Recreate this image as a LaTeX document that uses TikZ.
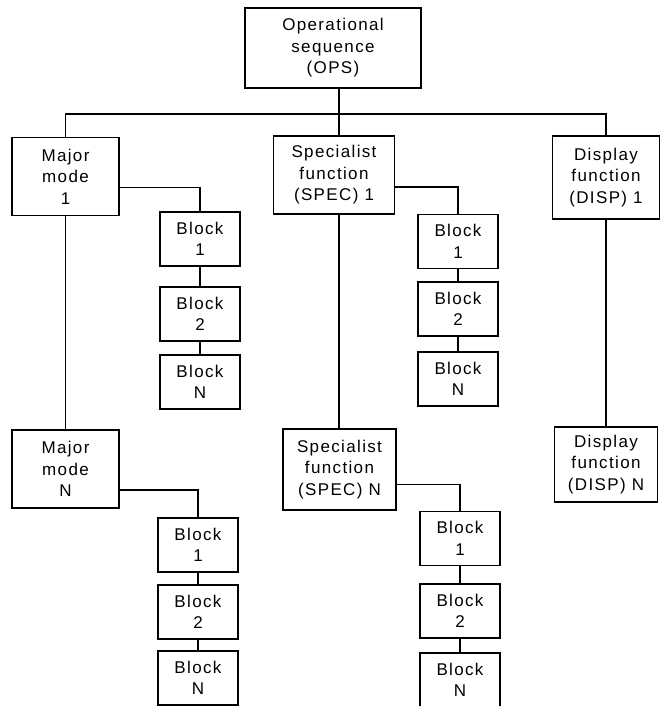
\documentclass[tikz,border=0pt]{standalone}
\usepackage{fontspec}
\setmainfont{Liberation Sans}[LetterSpace=8]
\usetikzlibrary{positioning}
\tikzset{box/.style={draw,line width=1.7pt,align=center,inner sep=3pt,
    font=\fontsize{17}{21.5}\selectfont}}
\tikzset{unit/.style={box,minimum width=107pt,minimum height=78pt}}
\tikzset{blk/.style={box,minimum width=80pt,minimum height=54pt}}

\begin{document}
\begin{tikzpicture}[x=1pt,y=-1pt,line width=1.7pt]
\useasboundingbox (0,0) rectangle (664,706);

% Top
\node[box,minimum width=176pt,minimum height=80pt] (OPS) at (333,48)
  {Operational\\sequence\\(OPS)};
\coordinate (bus) at (339,114);

% First row
\node[unit] (MM1) at (65.5,176.5) {Major\\mode\\1};
\node[unit,minimum width=121pt] (SF1) at (334,175)
  {Specialist\\function\\(SPEC) 1};
\node[unit,minimum height=83pt] (DF1) at (606,177.5)
  {Display\\function\\(DISP) 1};

% Second row
\node[unit] (MMN) at (65.5,469) {Major\\mode\\N};
\node[unit,minimum width=113pt,minimum height=81pt] (SFN) at (339.5,469.5)
  {Specialist\\function\\(SPEC) N};
\node[unit,minimum width=103pt,minimum height=75pt] (DFN) at (606,464.5)
  {Display\\function\\(DISP) N};

% Blocks of major mode 1
\node[blk] (MA1) at (200,239) {Block\\1};
\node[blk] (MA2) at (200,314) {Block\\2};
\node[blk] (MAN) at (200,382) {Block\\N};

% Blocks of major mode N
\node[blk] (MB1) at (198,545) {Block\\1};
\node[blk] (MB2) at (198,612) {Block\\2};
\node[blk] (MBN) at (198,678) {Block\\N};

% Blocks of SPEC 1
\node[blk] (SA1) at (458,241.5) {Block\\1};
\node[blk] (SA2) at (458,309) {Block\\2};
\node[blk] (SAN) at (458,379) {Block\\N};

% Blocks of SPEC N
\node[blk] (SB1) at (460,538.5) {Block\\1};
\node[blk] (SB2) at (460,611) {Block\\2};
\node[blk] (SBN) at (460,680) {Block\\N};

\draw (OPS.south -| bus) -- (bus) -- (SF1.north -| bus);
\draw (MM1.north) |- (bus) -| (DF1.north);

\draw (MM1) -- (MMN);
\draw (SF1.south -| bus) -- (SFN.north -| bus);
\draw (DF1) -- (DFN);

\draw ([yshift=-11pt]MM1.east) -| (MA1.north);
\draw ([yshift=-21pt]MMN.east) -| (MB1.north);
\draw ([yshift=-12pt]SF1.east) -| (SA1.north);
\draw ([yshift=-15pt]SFN.east) -| (SB1.north);

\draw (MA1) -- (MA2) -- (MAN);
\draw (MB1) -- (MB2) -- (MBN);
\draw (SA1) -- (SA2) -- (SAN);
\draw (SB1) -- (SB2) -- (SBN);

\end{tikzpicture}
\end{document}
